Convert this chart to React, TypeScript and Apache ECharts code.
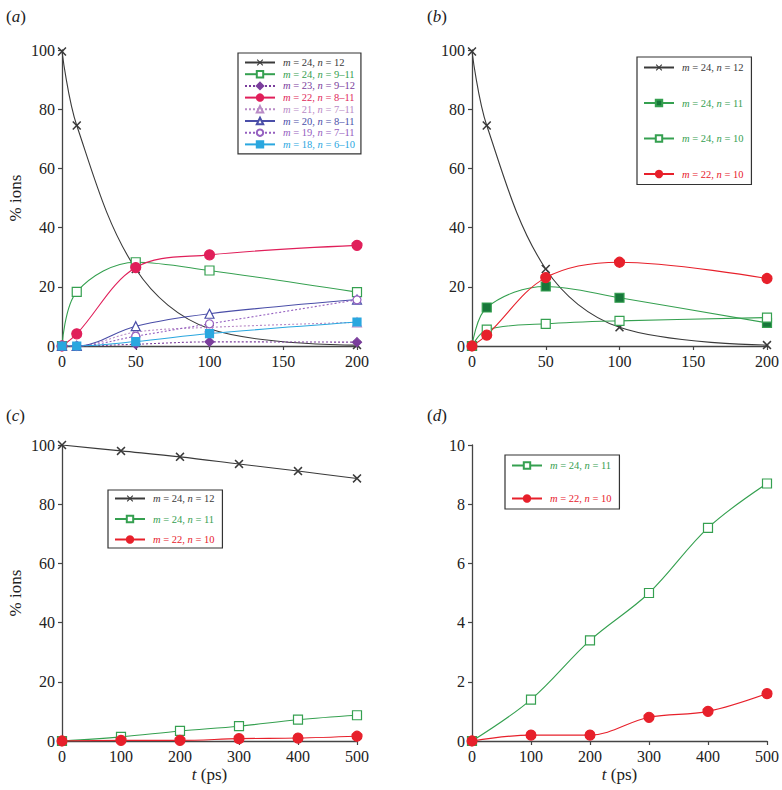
import React, { useEffect, useRef } from "react";
import * as echarts from "echarts";

// ---------- data ----------
const T_AB = [0, 10, 50, 100, 200];
const T_CD = [0, 100, 200, 300, 400, 500];

const A_M24_N12 = [99.5, 74.5, 26, 5.8, 0.3];
const A_M24_N9_11 = [0, 18.3, 28.3, 25.5, 18.2];
const A_M23_N9_12 = [0, 0, 0.6, 1.4, 1.3];
const A_M22_N8_11 = [0, 4.1, 26.5, 30.8, 34];
const A_M21_N7_11 = [0, 0, 4.7, 6.3, 8];
const A_M20_N8_11 = [0, 0, 6.7, 10.9, 15.7];
const A_M19_N7_11 = [0, 0, 3.3, 7.5, 15.6];
const A_M18_N6_10 = [0, 0, 1.5, 4.2, 8.1];

const B_M24_N12 = [99.5, 74.5, 26, 6.3, 0.3];
const B_M24_N11 = [0, 13, 20.1, 16.3, 7.8];
const B_M24_N10 = [0, 5.5, 7.5, 8.5, 9.6];
const B_M22_N10 = [0, 3.7, 23.1, 28.3, 22.8];

const C_M24_N12 = [100, 98, 96, 93.6, 91.2, 88.7];
const CD_M24_N11 = [0, 1.4, 3.4, 5, 7.2, 8.7];
const CD_M22_N10 = [0, 0.2, 0.2, 0.8, 1.0, 1.6];

const TICKS_Y100 = { min: 0, max: 100, interval: 20 };
const TICKS_Y10 = { min: 0, max: 10, interval: 2 };
const TICKS_X200 = { min: 0, max: 200, interval: 50 };
const TICKS_X500 = { min: 0, max: 500, interval: 100 };

// ---------- styles ----------
const SERIF = "Liberation Serif";
const TXT = "#222";
const BLACK = "#3a3a3a";
const GREEN = "#35a050";
const DKGREEN = "#17773a";
const CRIMSON = "#e01f5a";
const RED = "#e7202b";
const PURPLE = "#7a3d9c";
const ORCHID = "#b98ac6";
const NAVY = "#4a4ea8";
const VIOLET = "#9560c0";
const CYAN = "#2aa7df";

const XPATH =
  "path://M0,1.2L1.2,0L5,3.8L8.8,0L10,1.2L6.2,5L10,8.8L8.8,10L5,6.2L1.2,10L0,8.8L3.8,5Z";

const lbl = (m: string, n: string) => `{i|m} = ${m}, {i|n} = ${n}`;

type S = {
  id: string;
  label: string;
  color: string;
  xs: number[];
  ys: number[];
  grid: number;
  symbol: string;
  fill: string;
  size: number;
  dotted?: boolean;
};

const SERIES: S[] = [
  { id: "a1", label: lbl("24", "12"), color: BLACK, xs: T_AB, ys: A_M24_N12, grid: 0, symbol: XPATH, fill: BLACK, size: 9 },
  { id: "a2", label: lbl("24", "9–11"), color: GREEN, xs: T_AB, ys: A_M24_N9_11, grid: 0, symbol: "rect", fill: "#fff", size: 9 },
  { id: "a3", label: lbl("23", "9–12"), color: PURPLE, xs: T_AB, ys: A_M23_N9_12, grid: 0, symbol: "diamond", fill: PURPLE, size: 9, dotted: true },
  { id: "a4", label: lbl("22", "8–11"), color: CRIMSON, xs: T_AB, ys: A_M22_N8_11, grid: 0, symbol: "circle", fill: CRIMSON, size: 10 },
  { id: "a5", label: lbl("21", "7–11"), color: ORCHID, xs: T_AB, ys: A_M21_N7_11, grid: 0, symbol: "triangle", fill: "#fff", size: 9, dotted: true },
  { id: "a6", label: lbl("20", "8–11"), color: NAVY, xs: T_AB, ys: A_M20_N8_11, grid: 0, symbol: "triangle", fill: "#fff", size: 9 },
  { id: "a7", label: lbl("19", "7–11"), color: VIOLET, xs: T_AB, ys: A_M19_N7_11, grid: 0, symbol: "circle", fill: "#fff", size: 8, dotted: true },
  { id: "a8", label: lbl("18", "6–10"), color: CYAN, xs: T_AB, ys: A_M18_N6_10, grid: 0, symbol: "rect", fill: CYAN, size: 8 },

  { id: "b1", label: lbl("24", "12"), color: BLACK, xs: T_AB, ys: B_M24_N12, grid: 1, symbol: XPATH, fill: BLACK, size: 9 },
  { id: "b2", label: lbl("24", "11"), color: GREEN, xs: T_AB, ys: B_M24_N11, grid: 1, symbol: "rect", fill: DKGREEN, size: 9 },
  { id: "b3", label: lbl("24", "10"), color: GREEN, xs: T_AB, ys: B_M24_N10, grid: 1, symbol: "rect", fill: "#fff", size: 9 },
  { id: "b4", label: lbl("22", "10"), color: RED, xs: T_AB, ys: B_M22_N10, grid: 1, symbol: "circle", fill: RED, size: 10 },

  { id: "c1", label: lbl("24", "12"), color: BLACK, xs: T_CD, ys: C_M24_N12, grid: 2, symbol: XPATH, fill: BLACK, size: 9 },
  { id: "c2", label: lbl("24", "11"), color: GREEN, xs: T_CD, ys: CD_M24_N11, grid: 2, symbol: "rect", fill: "#fff", size: 9 },
  { id: "c3", label: lbl("22", "10"), color: RED, xs: T_CD, ys: CD_M22_N10, grid: 2, symbol: "circle", fill: RED, size: 10 },

  { id: "d1", label: lbl("24", "11"), color: GREEN, xs: T_CD, ys: CD_M24_N11, grid: 3, symbol: "rect", fill: "#fff", size: 9 },
  { id: "d2", label: lbl("22", "10"), color: RED, xs: T_CD, ys: CD_M22_N10, grid: 3, symbol: "circle", fill: RED, size: 10 },
];

const LABELS: Record<string, string> = {};
SERIES.forEach((s) => (LABELS[s.id] = s.label));

const GRIDS = [
  { left: 62, top: 50, width: 295, height: 296 },
  { left: 472, top: 50, width: 296, height: 296 },
  { left: 62, top: 445, width: 295, height: 296 },
  { left: 472, top: 445, width: 296, height: 296 },
];

const axisCommon = {
  axisLine: { lineStyle: { color: "#444", width: 1.3 } },
  axisTick: { show: true, inside: false, length: 4, lineStyle: { color: "#444", width: 1.2 } },
  axisLabel: { fontFamily: SERIF, fontSize: 16, color: TXT, margin: 7 },
  splitLine: { show: false },
};

const nameRich = { i: { fontStyle: "italic", fontFamily: SERIF, fontSize: 17, color: TXT } };

function legendFor(grid: number, pos: any) {
  const items = SERIES.filter((s) => s.grid === grid);
  return {
    orient: "vertical",
    ...pos,
    backgroundColor: "#fff",
    borderColor: "#333",
    borderWidth: 1.2,
    borderRadius: 0,
    itemWidth: 30,
    itemHeight: 8,
    selectedMode: false,
    formatter: (name: string) => LABELS[name],
    textStyle: {
      fontFamily: SERIF,
      fontSize: 10.5,
      lineHeight: 11,
      padding: [0, 0, 0, 3],
      rich: { i: { fontStyle: "italic", fontFamily: SERIF, fontSize: 10.5, lineHeight: 11 } },
    },
    data: items.map((s) => ({ name: s.id, textStyle: { color: s.color } })),
  };
}

export default function App() {
  const ref = useRef<HTMLDivElement>(null);
  useEffect(() => {
    if (!ref.current) return;
    const chart = echarts.init(ref.current, undefined, { renderer: "svg" });
    const titleStyle = {
      fontFamily: SERIF,
      fontSize: 17,
      fontWeight: "normal",
      color: TXT,
      rich: { i: { fontStyle: "italic", fontFamily: SERIF, fontSize: 17, color: TXT } },
    };
    const option: any = {
      animation: false,
      backgroundColor: "#fff",
      title: [
        { text: "({i|a})", left: 1, top: 3, textStyle: titleStyle },
        { text: "({i|b})", left: 422, top: 3, textStyle: titleStyle },
        { text: "({i|c})", left: 1, top: 402, textStyle: titleStyle },
        { text: "({i|d})", left: 422, top: 402, textStyle: titleStyle },
      ],
      grid: GRIDS,
      xAxis: GRIDS.map((_, i) => ({
        type: "value",
        gridIndex: i,
        ...(i < 2 ? TICKS_X200 : TICKS_X500),
        ...axisCommon,
        name: i >= 2 ? "{i|t} (ps)" : "",
        nameLocation: "middle",
        nameGap: 25,
        nameTextStyle: { fontFamily: SERIF, fontSize: 17, color: TXT, rich: nameRich },
      })),
      yAxis: GRIDS.map((_, i) => ({
        type: "value",
        gridIndex: i,
        ...(i === 3 ? TICKS_Y10 : TICKS_Y100),
        ...axisCommon,
        name: i === 0 || i === 2 ? "% ions" : "",
        nameLocation: "middle",
        nameRotate: 90,
        nameGap: 38,
        nameTextStyle: { fontFamily: SERIF, fontSize: 17, color: TXT },
      })),
      legend: [
        legendFor(0, { left: 238, top: 53, padding: [4, 6, 4, 6], itemGap: 0.7 }),
        legendFor(1, { left: 637, top: 57, padding: [5, 8, 5, 6], itemGap: 24.5 }),
        legendFor(2, { left: 108, top: 490, padding: [3, 8, 3, 6], itemGap: 9.5 }),
        legendFor(3, { left: 505, top: 455, padding: [5, 8, 5, 6], itemGap: 22 }),
      ],
      series: SERIES.map((s) => ({
        type: "line",
        name: s.id,
        xAxisIndex: s.grid,
        yAxisIndex: s.grid,
        data: s.xs.map((x, k) => [x, s.ys[k]]),
        smooth: 0.35,
        symbol: s.symbol,
        symbolSize: s.size,
        symbolKeepAspect: true,
        showAllSymbol: true,
        lineStyle: { color: s.color, width: 1.1, type: s.dotted ? [2, 2] : "solid" },
        itemStyle: {
          color: s.fill,
          borderColor: s.symbol === XPATH ? s.fill : s.color,
          borderWidth: s.symbol === XPATH ? 0 : 1.2,
        },
        emphasis: { disabled: true },
      })),
    };
    chart.setOption(option);
    return () => chart.dispose();
  }, []);
  return (
    <div
      ref={ref}
      style={{ position: "fixed", left: 0, top: 0, width: 782, height: 790, background: "#fff" }}
    />
  );
}
